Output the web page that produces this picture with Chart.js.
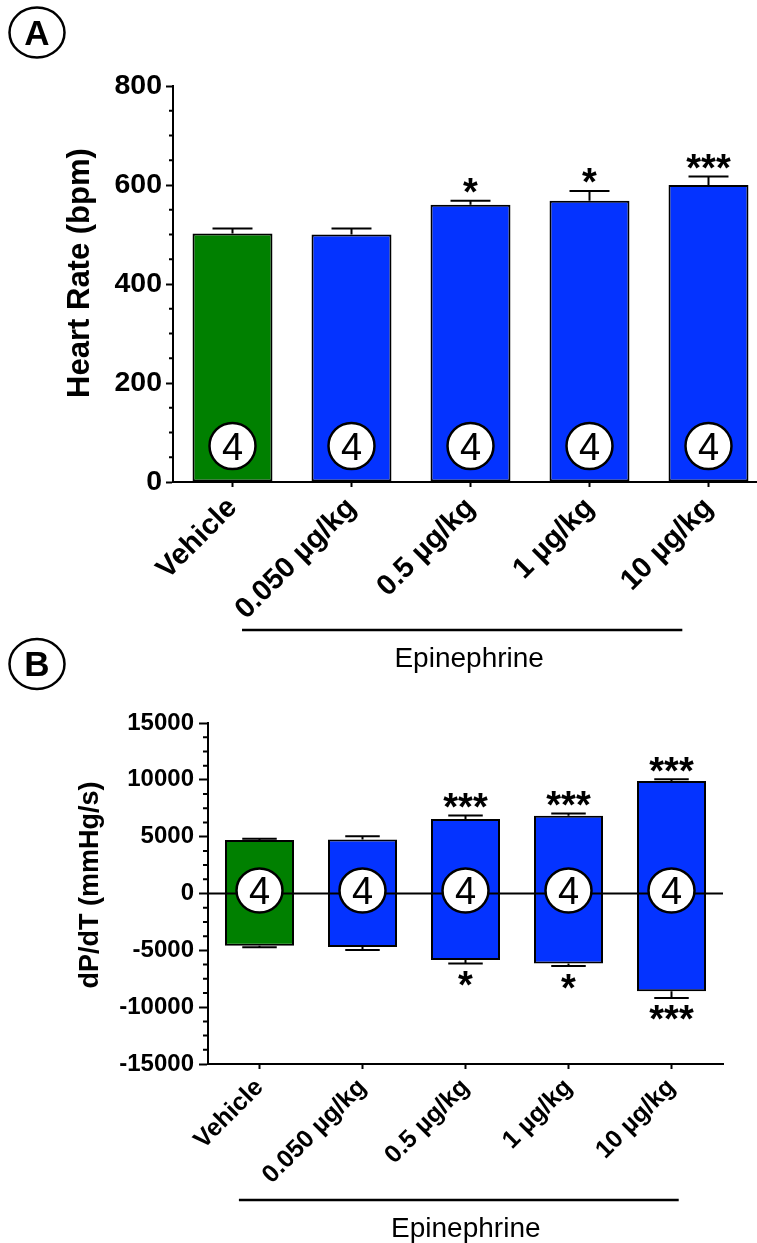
<!DOCTYPE html>
<html>
<head>
<meta charset="utf-8">
<script src="https://cdn.jsdelivr.net/npm/chart.js@4.4.1/dist/chart.umd.min.js"></script>
<style>
  html, body { margin: 0; padding: 0; background: #fff; overflow: hidden; width: 757px; height: 1243px; }
  canvas { position: absolute; left: 0; }
  #hr { top: 0; }
  #dp { top: 620px; }
</style>
</head>
<body>
<canvas id="hr" width="790" height="700"></canvas>
<canvas id="dp" width="757" height="623"></canvas>
<script>
const FONT = '"Liberation Sans", Arial, Helvetica, sans-serif';

// Treatment groups
const groups = ['Vehicle', '0.050 µg/kg', '0.5 µg/kg', '1 µg/kg', '10 µg/kg'];
const groupColors = ['#008000', '#0433ff', '#0433ff', '#0433ff', '#0433ff'];
const nAnimals = [4, 4, 4, 4, 4];

// Heart rate (bpm), mean and SEM
const hrMean = [502, 500, 560, 568, 600];
const hrSem = [10, 12, 8, 20, 17];
const hrStars = ['', '', '*', '*', '***'];
const hrTicks = [0, 200, 400, 600, 800];
const hrMinorStep = 50;

// dP/dT (mmHg/s): max (positive) and min (negative), mean and SEM
const dpMaxMean = [4700, 4750, 6550, 6850, 9900];
const dpMaxSem = [120, 280, 320, 180, 150];
const dpMaxStars = ['', '', '***', '***', '***'];
const dpMinMean = [-4600, -4700, -5850, -6150, -8600];
const dpMinSem = [130, 270, 300, 230, 590];
const dpMinStars = ['', '', '*', '*', '***'];
const dpTicks = [-15000, -10000, -5000, 0, 5000, 10000, 15000];
const dpMinorStep = 1250;

// Centre a glyph box vertically on cy and horizontally on cx
function drawCentered(ctx, text, cx, cy) {
  const m = ctx.measureText(text);
  ctx.textAlign = 'center';
  ctx.textBaseline = 'alphabetic';
  ctx.fillText(text, cx, cy + (m.actualBoundingBoxAscent - m.actualBoundingBoxDescent) / 2);
}

function ellipse(ctx, cx, cy, rx, ry, lw) {
  ctx.beginPath();
  ctx.ellipse(cx, cy, rx, ry, 0, 0, Math.PI * 2);
  ctx.fillStyle = '#fff';
  ctx.fill();
  ctx.lineWidth = lw;
  ctx.strokeStyle = '#000';
  ctx.stroke();
}

const decor = {
  id: 'decor',
  afterDatasetsDraw(chart, args, o) {
    const ctx = chart.ctx;
    const ys = chart.scales.y;
    const area = chart.chartArea;
    ctx.save();
    // zero reference line
    if (o.zeroLine) {
      const y0 = ys.getPixelForValue(0);
      ctx.beginPath();
      ctx.moveTo(area.left, y0);
      ctx.lineTo(area.right, y0);
      ctx.lineWidth = 2;
      ctx.strokeStyle = '#000';
      ctx.stroke();
    }
    // SEM whiskers and significance marks
    chart.data.datasets.forEach((ds, di) => {
      const meta = chart.getDatasetMeta(di);
      meta.data.forEach((bar, i) => {
        const v = ds.data[i];
        const dir = v >= 0 ? 1 : -1;
        const yBar = ys.getPixelForValue(v);
        const yEnd = ys.getPixelForValue(v + dir * ds.sem[i]);
        const half = bar.width / 4;
        ctx.beginPath();
        ctx.moveTo(bar.x, yBar);
        ctx.lineTo(bar.x, yEnd);
        ctx.moveTo(bar.x - half, yEnd);
        ctx.lineTo(bar.x + half, yEnd);
        ctx.lineWidth = 2;
        ctx.strokeStyle = '#000';
        ctx.stroke();
        if (ds.stars[i]) {
          ctx.fillStyle = '#000';
          ctx.font = o.starFont;
          drawCentered(ctx, ds.stars[i], bar.x, yEnd - dir * o.starGap);
        }
      });
    });
    // group size markers
    const meta0 = chart.getDatasetMeta(0);
    meta0.data.forEach((bar, i) => {
      const cy = o.nAtZero ? ys.getPixelForValue(0) + o.nOffset : area.bottom + o.nOffset;
      ellipse(ctx, bar.x, cy, o.nRx, o.nRy, 2.5);
      ctx.fillStyle = '#000';
      ctx.font = `38px ${FONT}`;
      drawCentered(ctx, String(nAnimals[i]), bar.x, cy);
    });
    ctx.restore();
  },
  afterDraw(chart, args, o) {
    const ctx = chart.ctx;
    const xs = chart.scales.x, ys = chart.scales.y;
    const area = chart.chartArea;
    ctx.save();
    ctx.strokeStyle = '#000';
    ctx.fillStyle = '#000';
    // minor ticks on the value axis
    ctx.lineWidth = 2;
    ctx.beginPath();
    for (let v = ys.min; v <= ys.max; v += o.minorStep) {
      if (o.majors.includes(v)) continue;
      const py = ys.getPixelForValue(v);
      ctx.moveTo(area.left - o.minorLen, py);
      ctx.lineTo(area.left, py);
    }
    ctx.stroke();
    // value axis title
    ctx.save();
    ctx.font = o.titleFont;
    const m = ctx.measureText(o.title);
    ctx.translate(o.titleX + (m.actualBoundingBoxAscent - m.actualBoundingBoxDescent) / 2, o.titleY);
    ctx.rotate(-Math.PI / 2);
    ctx.textAlign = 'center';
    ctx.textBaseline = 'alphabetic';
    ctx.fillText(o.title, 0, 0);
    ctx.restore();
    // bracket under the epinephrine doses
    const step = xs.getPixelForValue(1) - xs.getPixelForValue(0);
    const bx1 = xs.getPixelForValue(o.bracketFrom[0]) + o.bracketFrom[1] * step;
    const bx2 = xs.getPixelForValue(o.bracketTo[0]) + o.bracketTo[1] * step;
    const by = area.bottom + o.bracketDrop;
    ctx.beginPath();
    ctx.moveTo(bx1, by);
    ctx.lineTo(bx2, by);
    ctx.lineWidth = 2.5;
    ctx.stroke();
    ctx.font = `28px ${FONT}`;
    ctx.textAlign = 'center';
    ctx.textBaseline = 'alphabetic';
    ctx.fillText('Epinephrine', (bx1 + bx2) / 2 + 7, by + 37);
    // panel letter
    ellipse(ctx, o.letterX, o.letterY, 27.5, 25, 2.5);
    ctx.fillStyle = '#000';
    ctx.font = `bold 35px ${FONT}`;
    drawCentered(ctx, o.letter, o.letterX, o.letterY);
    ctx.restore();
  }
};

function categoryAxis(fontSize, height, tickLen, pad) {
  return {
    type: 'category',
    offset: true,
    grid: { display: true, drawOnChartArea: false, offset: false, tickLength: tickLen, tickWidth: 2, tickColor: '#000' },
    border: { display: true, color: '#000', width: 2 },
    ticks: {
      autoSkip: false, minRotation: 45, maxRotation: 45, padding: pad,
      color: '#000', font: { family: FONT, size: fontSize, weight: 'bold' }
    },
    afterFit: s => { s.height = height; }
  };
}

function valueAxis(min, max, majors, fontSize, width, tickLen, pad) {
  return {
    type: 'linear',
    min, max,
    afterBuildTicks: s => { s.ticks = majors.map(v => ({ value: v })); },
    grid: { display: true, drawOnChartArea: false, tickLength: tickLen, tickWidth: 2, tickColor: '#000' },
    border: { display: true, color: '#000', width: 2 },
    ticks: {
      padding: pad, color: '#000',
      font: { family: FONT, size: fontSize, weight: 'bold' },
      callback: v => String(v)
    },
    afterFit: s => { s.width = width; }
  };
}

Chart.register(decor);

// Panel A: heart rate
new Chart(document.getElementById('hr'), {
  type: 'bar',
  data: {
    labels: groups,
    datasets: [{
      data: hrMean, sem: hrSem, stars: hrStars,
      backgroundColor: groupColors, borderColor: '#000', borderWidth: 2, borderSkipped: false,
      barPercentage: 0.672, categoryPercentage: 1
    }]
  },
  options: {
    responsive: false, animation: false, devicePixelRatio: 1,
    layout: { padding: { top: 86, right: 22, bottom: 0, left: 0 } },
    plugins: {
      legend: { display: false }, tooltip: { enabled: false },
      decor: {
        starFont: `bold 38px ${FONT}`, starGap: 15,
        nAtZero: false, nOffset: -36, nRx: 23, nRy: 23,
        minorStep: hrMinorStep, majors: hrTicks, minorLen: 4,
        title: 'Heart Rate (bpm)', titleFont: `bold 31px ${FONT}`, titleX: 81, titleY: 273,
        bracketFrom: [1, -0.92], bracketTo: [4, -0.22], bracketDrop: 148,
        letter: 'A', letterX: 37, letterY: 32.5
      }
    },
    scales: {
      x: categoryAxis(29, 218, 5, 4),
      y: valueAxis(0, 800, hrTicks, 28.5, 173, 7, 4)
    }
  }
});

// Panel B: dP/dT max and min
new Chart(document.getElementById('dp'), {
  type: 'bar',
  data: {
    labels: groups,
    datasets: [
      {
        data: dpMaxMean, sem: dpMaxSem, stars: dpMaxStars,
        backgroundColor: groupColors, borderColor: '#000', borderWidth: 2, borderSkipped: 'start',
        barPercentage: 0.67, categoryPercentage: 1, grouped: false
      },
      {
        data: dpMinMean, sem: dpMinSem, stars: dpMinStars,
        backgroundColor: groupColors, borderColor: '#000', borderWidth: 2, borderSkipped: 'start',
        barPercentage: 0.67, categoryPercentage: 1, grouped: false
      }
    ]
  },
  options: {
    responsive: false, animation: false, devicePixelRatio: 1,
    layout: { padding: { top: 103, right: 34, bottom: 0, left: 0 } },
    plugins: {
      legend: { display: false }, tooltip: { enabled: false },
      decor: {
        zeroLine: true,
        starFont: `bold 38px ${FONT}`, starGap: 15,
        nAtZero: true, nOffset: -3, nRx: 23, nRy: 22,
        minorStep: dpMinorStep, majors: dpTicks, minorLen: 5,
        title: 'dP/dT (mmHg/s)', titleFont: `bold 27px ${FONT}`, titleX: 91, titleY: 265,
        bracketFrom: [1, -1.2], bracketTo: [4, 0.07], bracketDrop: 136,
        letter: 'B', letterX: 37, letterY: 44
      }
    },
    scales: {
      x: categoryAxis(25, 179, 5, 4),
      y: valueAxis(-15000, 15000, dpTicks, 24, 208, 9, 5)
    }
  }
});
</script>
</body>
</html>
